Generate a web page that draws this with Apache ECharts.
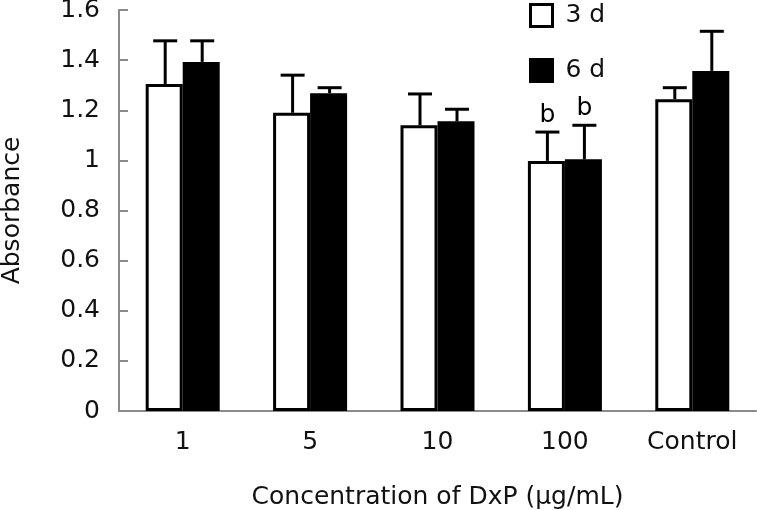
<!DOCTYPE html>
<html>
<head>
<meta charset="utf-8">
<script src="https://cdn.jsdelivr.net/npm/echarts@6/dist/echarts.min.js"></script>
<style>
  html, body { margin: 0; padding: 0; background: #fff; }
  #chart { width: 757px; height: 510px; }
</style>
</head>
<body>
<div id="chart"></div>
<script>
const categories = ["1", "5", "10", "100", "Control"];
const mean3d = [1.305, 1.19, 1.14, 0.998, 1.244];
const upper3d = [1.477, 1.34, 1.265, 1.113, 1.29];
const mean6d = [1.393, 1.268, 1.156, 1.004, 1.357];
const upper6d = [1.477, 1.29, 1.204, 1.14, 1.515];
const marks3d = ["", "", "", "b", ""];
const marks6d = ["", "", "", "b", ""];
const yTicks = [0, 0.2, 0.4, 0.6, 0.8, 1, 1.2, 1.4, 1.6];

const FONT = "DejaVu Sans";
const FS = 25;
const BAR_W = 37;
const AXIS_GRAY = "#8a8a8a";

function errorSeries(name, means, uppers, marks, side) {
  return {
    name: name + " err",
    type: "custom",
    z: 5,
    silent: true,
    data: means.map((m, i) => [i, m, uppers[i]]),
    renderItem(params, api) {
      const i = api.value(0);
      const base = api.coord([i, api.value(1)]);
      const top = api.coord([i, api.value(2)]);
      const cx = base[0] + side * BAR_W / 2 + 1;
      const children = [
        { type: "line", shape: { x1: cx, y1: base[1], x2: cx, y2: top[1] },
          style: { stroke: "#000", lineWidth: 3 } },
        { type: "line", shape: { x1: cx - 12, y1: top[1], x2: cx + 12, y2: top[1] },
          style: { stroke: "#000", lineWidth: 3 } },
      ];
      const mark = marks[params.dataIndex];
      if (mark) {
        children.push({
          type: "text",
          style: { x: cx, y: top[1] - 4, text: mark, fill: "#000",
                   font: FS + "px '" + FONT + "'", align: "center", verticalAlign: "bottom" },
        });
      }
      return { type: "group", children };
    },
  };
}

const chart = echarts.init(document.getElementById("chart"), null, { renderer: "canvas" });
chart.setOption({
  animation: false,
  backgroundColor: "#fff",
  textStyle: { fontFamily: FONT },
  grid: { left: 119, right: 1, top: 10, bottom: 99, containLabel: false, outerBoundsMode: "none" },
  legend: {
    orient: "vertical",
    left: 524,
    top: -2,
    itemWidth: 22,
    itemHeight: 22,
    itemGap: 30,
    icon: "rect",
    data: ["3 d", "6 d"],
    itemStyle: { borderWidth: 3 },
    textStyle: { fontFamily: FONT, fontSize: FS, color: "#111", padding: [0, 0, 0, 8] },
  },
  xAxis: {
    type: "category",
    data: categories,
    name: "Concentration of DxP (\u03bcg/mL)",
    nameLocation: "middle",
    nameGap: 74,
    nameTextStyle: { fontFamily: FONT, fontSize: FS, color: "#111" },
    axisLine: { lineStyle: { color: AXIS_GRAY, width: 2 } },
    axisTick: { inside: true, length: 9, lineStyle: { color: AXIS_GRAY, width: 2 } },
    axisLabel: { fontFamily: FONT, fontSize: FS, color: "#111", margin: 19 },
    splitLine: { show: false },
  },
  yAxis: {
    type: "value",
    min: 0,
    max: 1.6,
    interval: 0.2,
    name: "Absorbance",
    nameLocation: "middle",
    nameGap: 94,
    nameTextStyle: { fontFamily: FONT, fontSize: FS, color: "#111" },
    axisLine: { show: true, lineStyle: { color: AXIS_GRAY, width: 2 } },
    axisTick: { show: true, inside: true, length: 9, lineStyle: { color: AXIS_GRAY, width: 2 } },
    axisLabel: {
      fontFamily: FONT, fontSize: FS, color: "#111", margin: 19,
      formatter: (v) => (yTicks.includes(+v.toFixed(1)) ? String(+v.toFixed(1)) : ""),
    },
    splitLine: { show: false },
  },
  series: [
    {
      name: "3 d",
      type: "bar",
      barWidth: BAR_W,
      barGap: "0%",
      data: mean3d,
      itemStyle: { color: "#fff", borderColor: "#000", borderWidth: 3 },
    },
    {
      name: "6 d",
      type: "bar",
      barWidth: BAR_W,
      barGap: "0%",
      data: mean6d,
      itemStyle: { color: "#000", borderColor: "#000", borderWidth: 3 },
    },
    errorSeries("3 d", mean3d, upper3d, marks3d, -1),
    errorSeries("6 d", mean6d, upper6d, marks6d, 1),
  ],
});
</script>
</body>
</html>
